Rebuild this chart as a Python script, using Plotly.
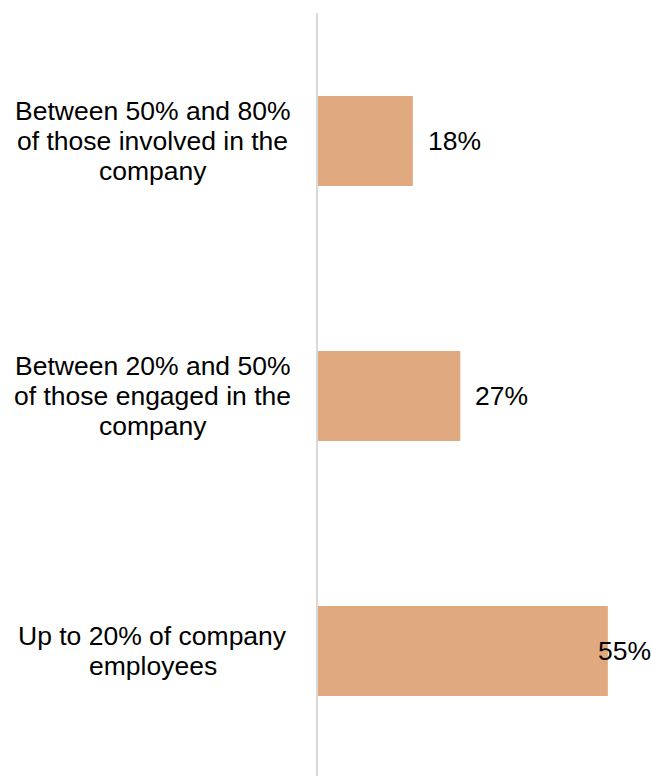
import plotly.graph_objects as go

# Survey shares, listed top to bottom
categories = [
    ["Between 50% and 80%", "of those involved in the", "company"],
    ["Between 20% and 50%", "of those engaged in the", "company"],
    ["Up to 20% of company", "employees"],
]
values = [18, 27, 55]
value_labels = ["18%", "27%", "55%"]

W, H = 651, 776
ML, MT = 318, 13
PX_PER_UNIT = 5.27
x_max = (W - ML) / PX_PER_UNIT

# numeric y positions: first category on top
ypos = [len(categories) - 1 - i for i in range(len(categories))]

BAR_COLOR = "#E0A97F"
FONT = "Liberation Sans, Arial, sans-serif"
FS = 26.5
LINE_PX = 30

fig = go.Figure(
    go.Bar(
        x=values,
        y=ypos,
        orientation="h",
        width=0.353,
        marker=dict(color=BAR_COLOR, line=dict(width=0)),
        hoverinfo="skip",
    )
)

annotations = []
label_x = (152.5 - ML) / (W - ML)
for yp, lines in zip(ypos, categories):
    n = len(lines)
    for k, line in enumerate(lines):
        offset = ((n - 1) / 2 - k) * LINE_PX
        annotations.append(dict(
            xref="paper", yref="y", x=label_x, y=yp, yshift=offset,
            text=line, showarrow=False, xanchor="center", yanchor="middle",
            font=dict(family=FONT, size=FS, color="#000000"),
        ))

for yp, v, lab in zip(ypos, values, value_labels):
    shift = 13
    if v * PX_PER_UNIT + 13 + 53 > (W - ML):
        shift = (W - ML) - v * PX_PER_UNIT - 55
    annotations.append(dict(
        xref="x", yref="y", x=v, y=yp, text=lab, showarrow=False,
        xanchor="left", yanchor="middle", xshift=shift,
        font=dict(family=FONT, size=FS, color="#000000"),
    ))

plot_h = H - MT
unit_px = 255
y_top = 2 + (141 - MT) / unit_px
y_bottom = y_top - plot_h / unit_px

fig.update_layout(
    width=W, height=H,
    margin=dict(l=ML, r=0, t=MT, b=0, pad=0),
    paper_bgcolor="white", plot_bgcolor="white",
    showlegend=False,
    xaxis=dict(range=[0, x_max], visible=False, fixedrange=True),
    yaxis=dict(
        range=[y_bottom, y_top], showticklabels=False, ticks="",
        showgrid=False, zeroline=False,
        showline=True, linecolor="#D9D9D9", linewidth=1.5,
    ),
    annotations=annotations,
)

fig.write_html("out.html")
